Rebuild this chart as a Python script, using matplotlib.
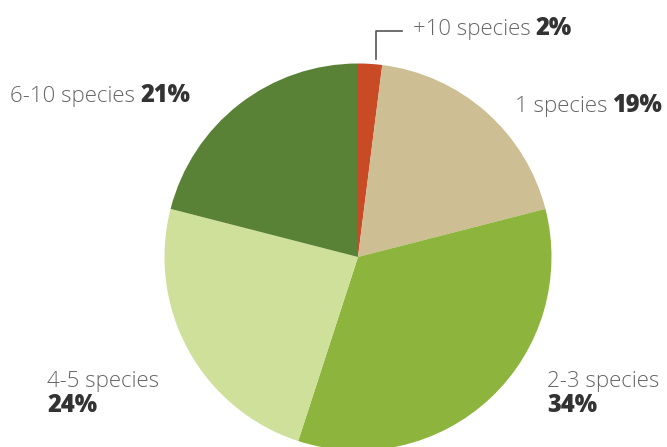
import matplotlib
matplotlib.use("Agg")
import matplotlib.pyplot as plt
from matplotlib.lines import Line2D

# data (clockwise from 12 o'clock)
labels = ["+10 species", "1 species", "2-3 species", "4-5 species", "6-10 species"]
shares = [2, 19, 34, 24, 21]
colors = ["#c84b26", "#cdbe94", "#8db53d", "#cfe09a", "#5a8236"]

W, H = 667, 447
fig = plt.figure(figsize=(W / 100, H / 100), dpi=100)

# pie center / radius in pixels (top-left origin)
cx, cy, r = 358, 257, 193.5
lim = 1.25
ax = fig.add_axes([(cx - r * lim) / W, (H - cy - r * lim) / H, 2 * r * lim / W, 2 * r * lim / H])
ax.pie(shares, colors=colors, startangle=90, counterclock=False,
       wedgeprops=dict(linewidth=0))
ax.set_xlim(-lim, lim)
ax.set_ylim(-lim, lim)
ax.set_aspect("equal")
ax.axis("off")

light = dict(family=["Open Sans", "DejaVu Sans"], fontweight="light", color="#666666", fontsize=16)
heavy = dict(family=["Open Sans", "DejaVu Sans"], fontweight="heavy", color="#333333", fontsize=17)


def px(x, y):
    return x / W, 1 - y / H


def two_part(x, y, name, pct, newline=False):
    # name in light grey, percentage in heavy dark
    t1 = fig.text(*px(x, y), name, ha="left", va="baseline", **light)
    if newline:
        fig.text(*px(x, y + 25), f"{pct}%", ha="left", va="baseline", **heavy)
    else:
        fig.canvas.draw()
        bb = t1.get_window_extent()
        fig.text((bb.x1 + 5) / W, 1 - y / H, f"{pct}%", ha="left", va="baseline", **heavy)


two_part(413, 35, labels[0], shares[0])
two_part(515, 112, labels[1], shares[1])
two_part(547, 387, labels[2], shares[2], newline=True)
two_part(47, 387, labels[3], shares[3], newline=True)
two_part(10, 102, labels[4], shares[4])

# leader line for the small slice
xs = [376 / W, 376 / W, 402 / W]
ys = [1 - 59 / H, 1 - 31 / H, 1 - 31 / H]
fig.add_artist(Line2D(xs, ys, color="#555555", linewidth=1.2, transform=fig.transFigure))

fig.savefig("out.png", dpi=100, facecolor="white")
